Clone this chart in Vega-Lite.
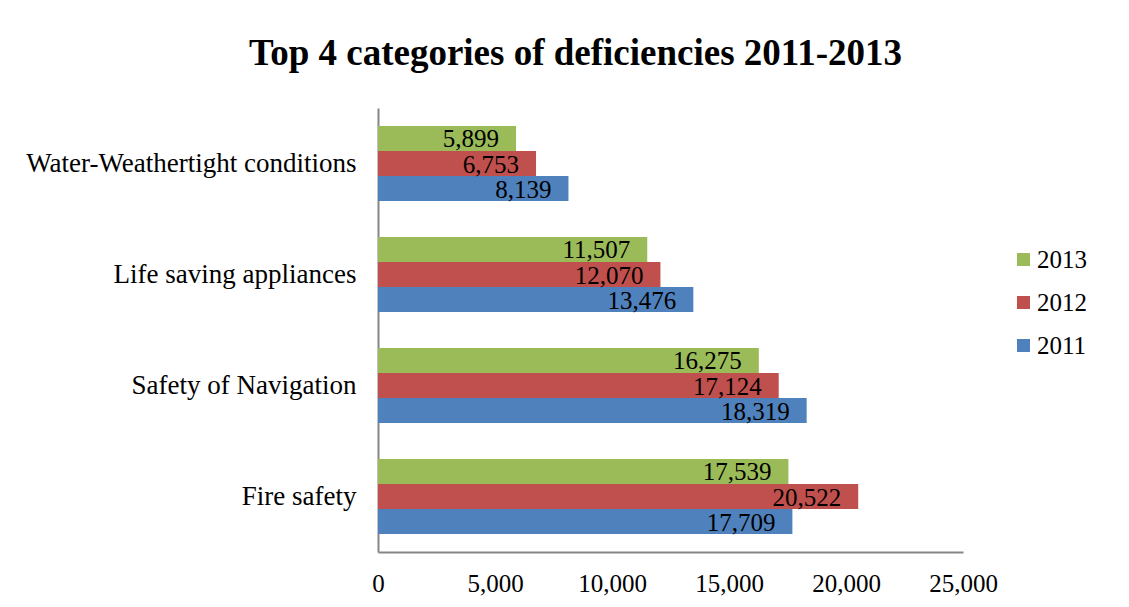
{
  "$schema": "https://vega.github.io/schema/vega-lite/v6.json",
  "autosize": "none",
  "padding": {"left": 378, "top": 108, "right": 166, "bottom": 55},
  "width": 585,
  "height": 444,
  "background": "white",
  "title": {
    "text": "Top 4 categories of deficiencies 2011-2013",
    "font": "Liberation Serif",
    "fontSize": 37,
    "fontWeight": "bold",
    "color": "black",
    "anchor": "middle",
    "dx": -95,
    "offset": 35
  },
  "data": {
    "values": [
      {"category": "Water-Weathertight conditions", "year": "2013", "value": 5899},
      {"category": "Water-Weathertight conditions", "year": "2012", "value": 6753},
      {"category": "Water-Weathertight conditions", "year": "2011", "value": 8139},
      {"category": "Life saving appliances", "year": "2013", "value": 11507},
      {"category": "Life saving appliances", "year": "2012", "value": 12070},
      {"category": "Life saving appliances", "year": "2011", "value": 13476},
      {"category": "Safety of Navigation", "year": "2013", "value": 16275},
      {"category": "Safety of Navigation", "year": "2012", "value": 17124},
      {"category": "Safety of Navigation", "year": "2011", "value": 18319},
      {"category": "Fire safety", "year": "2013", "value": 17539},
      {"category": "Fire safety", "year": "2012", "value": 20522},
      {"category": "Fire safety", "year": "2011", "value": 17709}
    ]
  },
  "encoding": {
    "y": {
      "field": "category",
      "type": "nominal",
      "sort": ["Water-Weathertight conditions", "Life saving appliances", "Safety of Navigation", "Fire safety"],
      "scale": {"paddingInner": 0.324, "paddingOuter": 0.162},
      "axis": {
        "title": null,
        "ticks": false,
        "labelFont": "Liberation Serif",
        "labelFontSize": 27,
        "labelColor": "black",
        "labelPadding": 22,
        "labelLimit": 400,
        "domainColor": "#868686",
        "domainWidth": 2
      }
    },
    "yOffset": {
      "field": "year",
      "type": "nominal",
      "sort": ["2013", "2012", "2011"],
      "scale": {"paddingInner": 0, "paddingOuter": 0}
    },
    "x": {
      "field": "value",
      "type": "quantitative",
      "scale": {"domain": [0, 25000], "nice": false},
      "axis": {
        "title": null,
        "values": [0, 5000, 10000, 15000, 20000, 25000],
        "format": ",.0f",
        "grid": false,
        "ticks": false,
        "labelFont": "Liberation Serif",
        "labelFontSize": 25,
        "labelColor": "black",
        "labelPadding": 19,
        "labelFlush": false,
        "domainColor": "#868686",
        "domainWidth": 2
      }
    }
  },
  "layer": [
    {
      "mark": {"type": "bar"},
      "encoding": {
        "color": {
          "field": "year",
          "type": "nominal",
          "scale": {"domain": ["2013", "2012", "2011"], "range": ["#9BBB59", "#C0504D", "#4F81BD"]},
          "legend": {
            "title": null,
            "orient": "none",
            "legendX": 633,
            "legendY": 139,
            "symbolType": "square",
            "symbolSize": 170,
            "symbolStrokeWidth": 0,
            "labelFont": "Liberation Serif",
            "labelFontSize": 25,
            "labelColor": "black",
            "rowPadding": 17,
            "labelOffset": 1
          }
        }
      }
    },
    {
      "mark": {
        "type": "text",
        "align": "right",
        "baseline": "middle",
        "dx": -17,
        "dy": 1,
        "font": "Liberation Serif",
        "fontSize": 25,
        "color": "black"
      },
      "encoding": {
        "text": {"field": "value", "type": "quantitative", "format": ","}
      }
    }
  ],
  "config": {"view": {"stroke": null}}
}
